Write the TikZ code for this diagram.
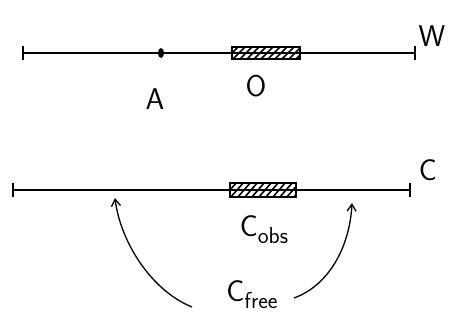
\documentclass[tikz,border=0pt]{standalone}
\usepackage{fontspec}
\setmainfont{DejaVu Sans}
\usetikzlibrary{arrows.meta,shapes.geometric}
\newcommand{\subtxt}[1]{{\fontsize{23}{23}\selectfont\raisebox{-7pt}{#1}}}
\begin{document}
\begin{tikzpicture}[x=1pt,y=-1pt,
  axis/.style={line width=1.3pt},
  tick/.style={line width=1.3pt},
  obst/.style={draw,line width=1.2pt},
  hatch/.style={line width=1.6pt},
  lbl/.style={font=\fontsize{30}{30}\selectfont\sffamily},
  curved/.style={line width=1.3pt,-{Straight Barb[length=7pt,width=9pt]}}]
\useasboundingbox (0,0) rectangle (450,329);
% top: workspace W
\coordinate (w1) at (23,53);
\coordinate (w2) at (415,53);
\draw[axis] (w1) -- (w2);
\draw[tick] ([yshift=-7]w1) -- ([yshift=7]w1);
\draw[tick] ([yshift=-7]w2) -- ([yshift=7]w2);
\node[obst,minimum width=68,minimum height=12,inner sep=0] (O) at (266,53) {};
\begin{scope}
\clip (O.south west) rectangle (O.north east);
\foreach \i in {0,7,...,88} {\draw[hatch] (232+\i-14,60) -- (232+\i,46);}
\end{scope}
\node[fill,ellipse,minimum width=6,minimum height=10,inner sep=0] (A) at (161,53) {};
\node[lbl] (W) at (432,36) {W};
\node[lbl] (Alab) at (155,99) {A};
\node[lbl] (Olab) at (256,86) {O};
% bottom: configuration space C
\coordinate (c1) at (13,190);
\coordinate (c2) at (410,190);
\draw[axis] (c1) -- (c2);
\draw[tick] ([yshift=-7]c1) -- ([yshift=7]c1);
\draw[tick] ([yshift=-7]c2) -- ([yshift=7]c2);
\node[obst,minimum width=66,minimum height=14,inner sep=0] (Cobs) at (263,190) {};
\begin{scope}
\clip (Cobs.south west) rectangle (Cobs.north east);
\foreach \i in {0,7,...,88} {\draw[hatch] (230+\i-14,198) -- (230+\i,182);}
\end{scope}
\node[lbl] (C) at (428,170) {C};
\node[lbl] (cobslab) at (264,230) {C\subtxt{obs}};
\node[lbl] (cfree) at (252,295) {C\subtxt{free}};
\coordinate (la) at (115,198);
\coordinate (ra) at (352,203);
\draw[curved] (192,307) .. controls (150,290) and (120,240) .. (la);
\draw[curved] (294,298) .. controls (330,285) and (350,245) .. (ra);
\end{tikzpicture}
\end{document}
